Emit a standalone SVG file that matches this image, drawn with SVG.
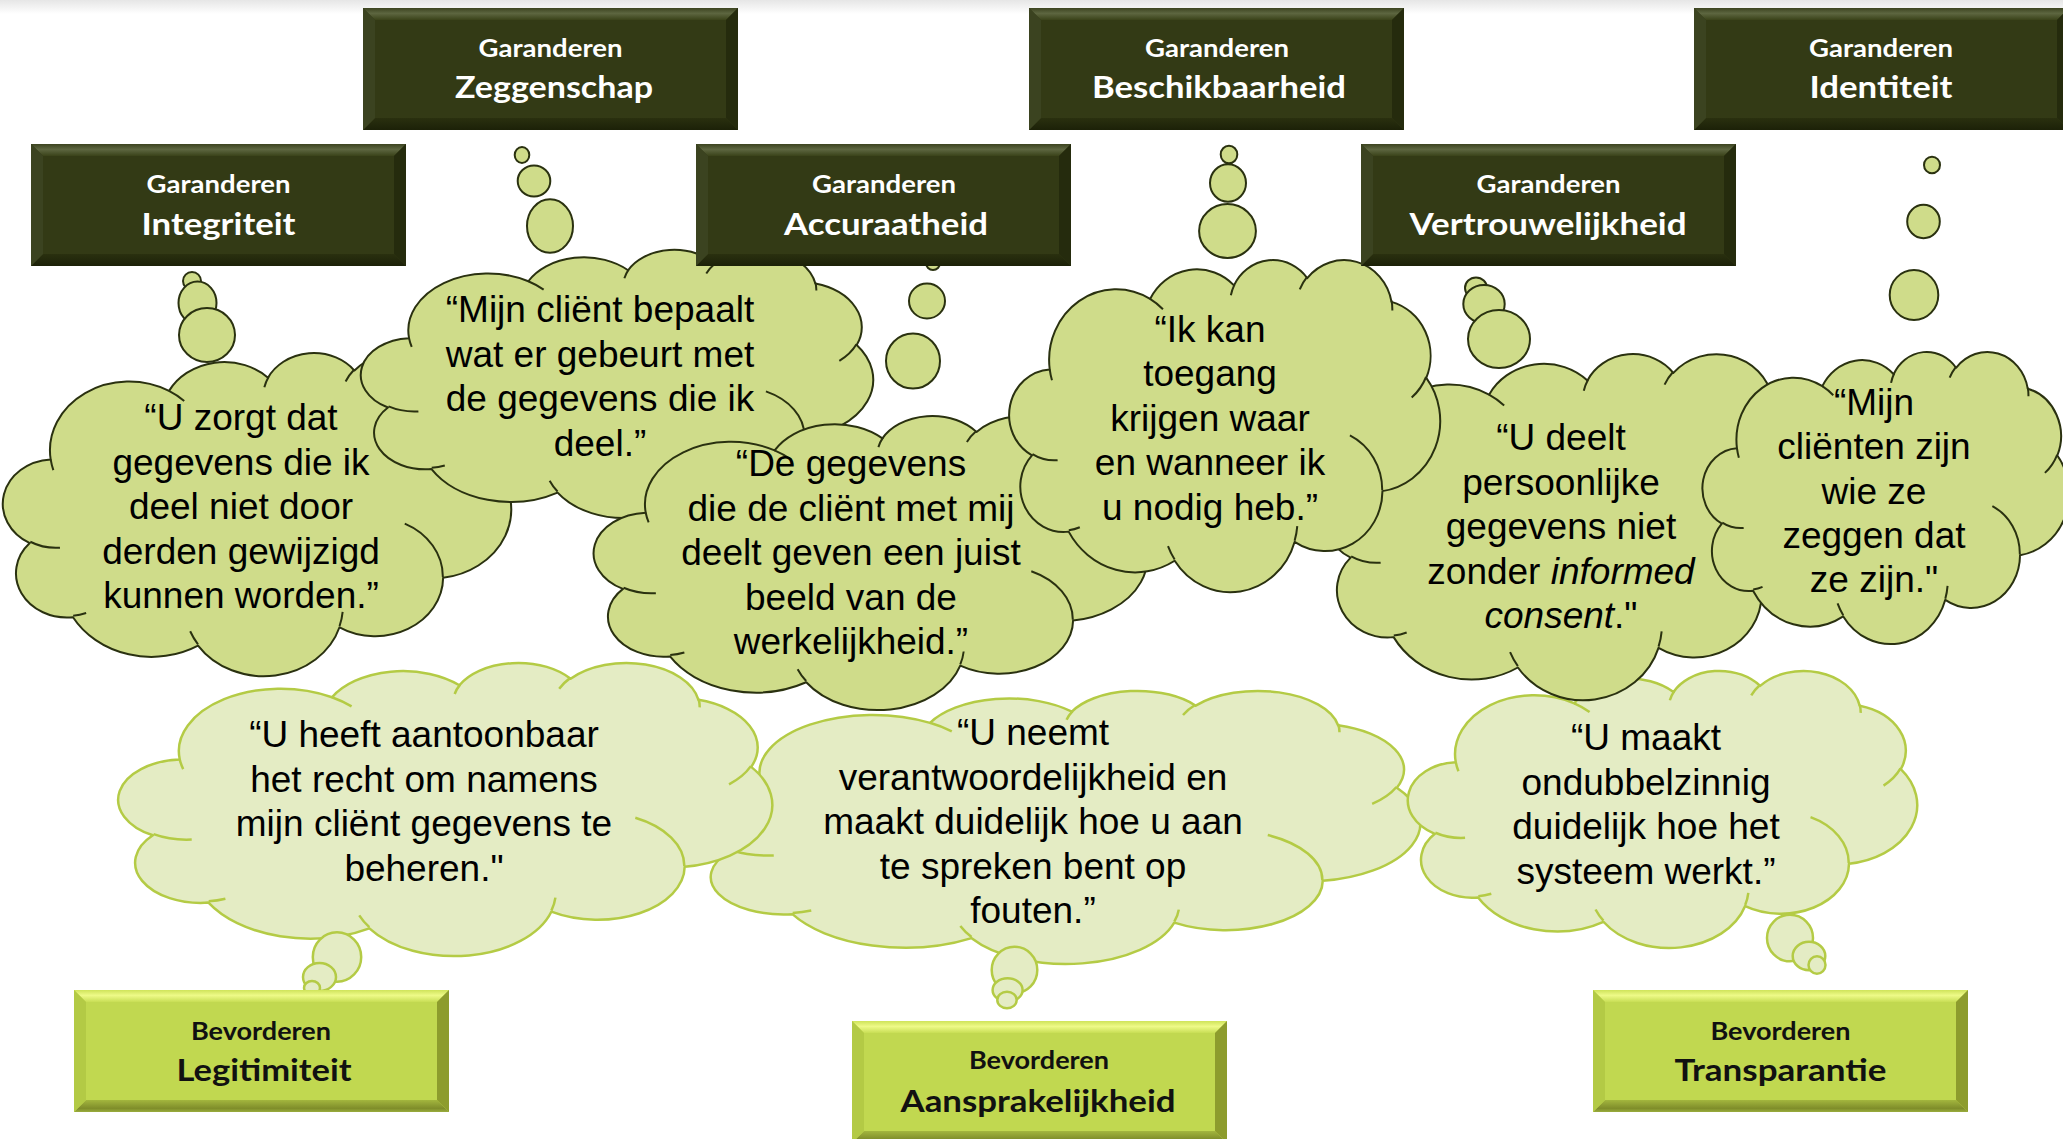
<svg xmlns="http://www.w3.org/2000/svg" width="2063" height="1139" viewBox="0 0 2063 1139">
<style>
.dk{fill:#cfdc8a;stroke:#2a3110;stroke-width:2}
.lt{fill:#e4ecc4;stroke:#b4cb45;stroke-width:2.5}
.q{font-family:"Liberation Sans",Arial,sans-serif;font-size:37px;fill:#000;text-anchor:middle}
.h1{font-family:Lato,"Open Sans",sans-serif;font-weight:bold;font-size:25px;text-anchor:middle}
.h2{font-family:Lato,"Open Sans",sans-serif;font-weight:bold;font-size:31px;text-anchor:middle}
.w{fill:#ffffff}
.b{fill:#111111}
</style>
<defs>
<linearGradient id="topShade" x1="0" y1="0" x2="0" y2="1"><stop offset="0" stop-color="#e6e6e6"/><stop offset="1" stop-color="#ffffff"/></linearGradient>
<linearGradient id="dTop" x1="0" y1="0" x2="0" y2="1"><stop offset="0" stop-color="#3c4420"/><stop offset="0.45" stop-color="#5d6640"/><stop offset="1" stop-color="#3a4219"/></linearGradient>
<linearGradient id="dBot" x1="0" y1="0" x2="0" y2="1"><stop offset="0" stop-color="#2a300f"/><stop offset="1" stop-color="#1c2108"/></linearGradient>
<linearGradient id="gTop" x1="0" y1="0" x2="0" y2="1"><stop offset="0" stop-color="#cfe35a"/><stop offset="0.45" stop-color="#eefa88"/><stop offset="1" stop-color="#c8de55"/></linearGradient>
<linearGradient id="gBot" x1="0" y1="0" x2="0" y2="1"><stop offset="0" stop-color="#a3b63e"/><stop offset="0.7" stop-color="#7f8d2a"/><stop offset="1" stop-color="#9aad3e"/></linearGradient>
<g id="cloud" stroke-linejoin="round">
<path vector-effect="non-scaling-stroke" d="M9.028 33.264A15.632 21.273 0 0 1 32.417 12.041A12.345 16.822 0 0 1 51.981 7.945A10.104 13.762 0 0 1 69.06 5.746A11.243 15.266 0 0 1 88.702 12.911A12.345 16.836 0 0 1 96.805 35.79A15.683 21.343 0 0 1 86.586 69.916A13.391 18.211 0 0 1 66.105 85.219A15.63 21.331 0 0 1 38.152 90.895A17.87 24.405 0 0 1 13.438 82.118A10.093 13.699 0 0 1 4.894 59.15A10.058 13.762 0 0 1 9.028 33.264Z"/>
<path vector-effect="non-scaling-stroke" fill="none" d="M10.863 60.595A10.058 13.762 0 0 1 4.999 58.749M16.037 80.785A10.093 13.699 0 0 1 13.471 81.668M38.144 90.486A15.63 21.331 0 0 1 36.596 86.454M66.729 80.442A15.63 21.331 0 0 1 66.112 84.86M79.002 53.134A13.391 18.211 0 0 1 86.529 69.652M96.755 35.542A12.345 16.836 0 0 1 93.4 41.738M88.713 12.56A11.243 15.266 0 0 1 88.89 15.485M67.31 9.148A11.243 15.266 0 0 1 69.026 5.42M51.252 10.926A10.104 13.762 0 0 1 52.084 7.709M32.407 12.019A15.632 21.273 0 0 1 35.42 15.144M9.553 36.549A15.632 21.273 0 0 1 9.028 33.263"/>
</g>
<g id="dbox">
<rect width="375" height="122" fill="#333a15"/>
<polygon points="0,0 375,0 363,12 12,12" fill="url(#dTop)"/>
<polygon points="0,122 375,122 363,110 12,110" fill="url(#dBot)"/>
<polygon points="0,0 12,12 12,110 0,122" fill="#3b4320"/>
<polygon points="375,0 363,12 363,110 375,122" fill="#252b0d"/>
</g>
<g id="gbox">
<rect width="375" height="122" fill="#c1d850"/>
<polygon points="0,0 375,0 363,12 12,12" fill="url(#gTop)"/>
<polygon points="0,122 375,122 363,110 12,110" fill="url(#gBot)"/>
<polygon points="0,0 12,12 12,110 0,122" fill="#b3ca45"/>
<polygon points="375,0 363,12 363,110 375,122" fill="#8d9c2d"/>
</g>
</defs>
<rect width="2063" height="1139" fill="#ffffff"/>
<rect width="2063" height="14" fill="url(#topShade)"/>

<g id="cloud-aansprakelijkheid">
<use href="#cloud" class="lt" transform="translate(695,690) scale(7.25,2.73)"/>
</g>
<g id="cloud-legitimiteit">
<use href="#cloud" class="lt" transform="translate(121,662) scale(6.51,2.93)"/>
<text class="q"><tspan x="424" y="747">“U heeft aantoonbaar</tspan><tspan x="424" y="791.5">het recht om namens</tspan><tspan x="424" y="836">mijn cliënt gegevens te</tspan><tspan x="424" y="880.5">beheren."</tspan></text>
</g>
<g id="cloud-transparantie">
<use href="#cloud" class="lt" transform="translate(1410,670) scale(5.07,2.77)"/>
<text class="q"><tspan x="1646" y="750">“U maakt</tspan><tspan x="1646" y="794.5">ondubbelzinnig</tspan><tspan x="1646" y="839">duidelijk hoe het</tspan><tspan x="1646" y="883.5">systeem werkt.”</tspan></text>
</g>
<g id="cloud-aansprakelijkheid-text">
<text class="q"><tspan x="1033" y="745">“U neemt</tspan><tspan x="1033" y="789.5">verantwoordelijkheid en</tspan><tspan x="1033" y="834">maakt duidelijk hoe u aan</tspan><tspan x="1033" y="878.5">te spreken bent op</tspan><tspan x="1033" y="923">fouten.”</tspan></text>
</g>

<g id="cloud-integriteit">
<use href="#cloud" class="dk" transform="translate(5,352) scale(5.06,3.23)"/>
<text class="q"><tspan x="241" y="430">“U zorgt dat</tspan><tspan x="241" y="474.6">gegevens die ik</tspan><tspan x="241" y="519.2">deel niet door</tspan><tspan x="241" y="563.8">derden gewijzigd</tspan><tspan x="241" y="608.4">kunnen worden.”</tspan></text>
</g>
<g id="cloud-zeggenschap">
<use href="#cloud" class="dk" transform="translate(363,249) scale(5.10,2.68)"/>
<text class="q"><tspan x="600" y="322">“Mijn cliënt bepaalt</tspan><tspan x="600" y="366.6">wat er gebeurt met</tspan><tspan x="600" y="411.2">de gegevens die ik</tspan><tspan x="600" y="455.8">deel.”</tspan></text>
</g>
<g id="cloud-accuraatheid">
<use href="#cloud" class="dk" transform="translate(596,415) scale(5.51,2.94)"/>
<text class="q"><tspan x="851" y="476">“De gegevens</tspan><tspan x="851" y="520.6">die de cliënt met mij</tspan><tspan x="851" y="565.2">deelt geven een juist</tspan><tspan x="851" y="609.8">beeld van de</tspan><tspan x="851" y="654.4">werkelijkheid.”</tspan></text>
</g>
<g id="cloud-vertrouwelijkheid">
<use href="#cloud" class="dk" transform="translate(1326,353) scale(5.03,3.46)"/>
<text class="q"><tspan x="1561" y="450">“U deelt</tspan><tspan x="1561" y="494.6">persoonlijke</tspan><tspan x="1561" y="539.2">gegevens niet</tspan><tspan x="1561" y="583.8">zonder <tspan font-style="italic">informed</tspan></tspan><tspan x="1561" y="628.4"><tspan font-style="italic">consent</tspan>."</tspan></text>
</g>
<g id="cloud-beschikbaarheid">
<use href="#cloud" class="dk" transform="translate(1011,259) scale(4.29,3.32)"/>
<text class="q"><tspan x="1210" y="341.5">“Ik kan</tspan><tspan x="1210" y="386.1">toegang</tspan><tspan x="1210" y="430.7">krijgen waar</tspan><tspan x="1210" y="475.3">en wanneer ik</tspan><tspan x="1210" y="519.9">u nodig heb.”</tspan></text>
</g>
<g id="cloud-identiteit">
<use href="#cloud" class="dk" transform="translate(1704,351) scale(3.65,2.92)"/>
<text class="q"><tspan x="1874" y="415">“Mijn</tspan><tspan x="1874" y="459">cliënten zijn</tspan><tspan x="1874" y="503.5">wie ze</tspan><tspan x="1874" y="548">zeggen dat</tspan><tspan x="1874" y="592">ze zijn."</tspan></text>
</g>

<g id="connectors">
<g class="dk">
<ellipse cx="192" cy="281" rx="9" ry="9"/><ellipse cx="197.5" cy="303" rx="19" ry="21.5"/><ellipse cx="207" cy="335" rx="28" ry="27"/>
<ellipse cx="522" cy="155" rx="7.3" ry="8"/><ellipse cx="534" cy="181" rx="16.3" ry="15.5"/><ellipse cx="550" cy="226" rx="23" ry="26.7"/>
<ellipse cx="933" cy="263" rx="7" ry="7"/><ellipse cx="927" cy="301" rx="18" ry="17.5"/><ellipse cx="913" cy="361" rx="27" ry="27.5"/>
<ellipse cx="1229" cy="154.5" rx="8.3" ry="8.8"/><ellipse cx="1228" cy="183" rx="18" ry="18.7"/><ellipse cx="1227.5" cy="231" rx="28.4" ry="27"/>
<ellipse cx="1476" cy="288" rx="11" ry="10.5"/><ellipse cx="1484" cy="304" rx="20.7" ry="19"/><ellipse cx="1499" cy="339" rx="31" ry="29"/>
<ellipse cx="1932" cy="165" rx="8" ry="8.3"/><ellipse cx="1923.5" cy="221.5" rx="16.3" ry="16.7"/><ellipse cx="1914" cy="295" rx="24.3" ry="25"/>
</g>
<g class="lt">
<ellipse cx="337" cy="957" rx="24.2" ry="24.7"/><ellipse cx="319.5" cy="977" rx="16.5" ry="14"/><ellipse cx="312" cy="988" rx="8" ry="7"/>
<ellipse cx="1014.5" cy="970" rx="22.8" ry="23.3"/><ellipse cx="1007.6" cy="990" rx="15" ry="11.7"/><ellipse cx="1007" cy="1000" rx="9.7" ry="8.3"/>
<ellipse cx="1790" cy="938" rx="23" ry="23.3"/><ellipse cx="1809" cy="956" rx="16.3" ry="14.2"/><ellipse cx="1817" cy="965" rx="8.5" ry="8.7"/>
</g>
</g>

<g id="box-integriteit"><use href="#dbox" x="31" y="144"/><text class="h1 w" x="218.5" y="193" textLength="144" lengthAdjust="spacingAndGlyphs">Garanderen</text><text class="h2 w" x="218.5" y="235" textLength="154" lengthAdjust="spacingAndGlyphs">Integriteit</text></g>
<g id="box-zeggenschap"><use href="#dbox" x="363" y="8"/><text class="h1 w" x="550.5" y="57" textLength="144" lengthAdjust="spacingAndGlyphs">Garanderen</text><text class="h2 w" x="554" y="98" textLength="198" lengthAdjust="spacingAndGlyphs">Zeggenschap</text></g>
<g id="box-accuraatheid"><use href="#dbox" x="696" y="144"/><text class="h1 w" x="884" y="193" textLength="144" lengthAdjust="spacingAndGlyphs">Garanderen</text><text class="h2 w" x="886" y="235" textLength="204" lengthAdjust="spacingAndGlyphs">Accuraatheid</text></g>
<g id="box-beschikbaarheid"><use href="#dbox" x="1029" y="8"/><text class="h1 w" x="1217" y="57" textLength="144" lengthAdjust="spacingAndGlyphs">Garanderen</text><text class="h2 w" x="1219" y="98" textLength="254" lengthAdjust="spacingAndGlyphs">Beschikbaarheid</text></g>
<g id="box-vertrouwelijkheid"><use href="#dbox" x="1361" y="144"/><text class="h1 w" x="1548.5" y="193" textLength="144" lengthAdjust="spacingAndGlyphs">Garanderen</text><text class="h2 w" x="1548" y="235" textLength="277" lengthAdjust="spacingAndGlyphs">Vertrouwelijkheid</text></g>
<g id="box-identiteit"><use href="#dbox" x="1694" y="8"/><text class="h1 w" x="1881" y="57" textLength="144" lengthAdjust="spacingAndGlyphs">Garanderen</text><text class="h2 w" x="1881" y="98" textLength="143" lengthAdjust="spacingAndGlyphs">Identiteit</text></g>

<g id="box-legitimiteit"><use href="#gbox" x="74" y="990"/><text class="h1 b" x="261" y="1040" textLength="140" lengthAdjust="spacingAndGlyphs">Bevorderen</text><text class="h2 b" x="264" y="1081" textLength="175" lengthAdjust="spacingAndGlyphs">Legitimiteit</text></g>
<g id="box-aansprakelijkheid"><use href="#gbox" x="852" y="1021"/><text class="h1 b" x="1039" y="1069" textLength="140" lengthAdjust="spacingAndGlyphs">Bevorderen</text><text class="h2 b" x="1038" y="1112" textLength="275" lengthAdjust="spacingAndGlyphs">Aansprakelijkheid</text></g>
<g id="box-transparantie"><use href="#gbox" x="1593" y="990"/><text class="h1 b" x="1780.5" y="1040" textLength="140" lengthAdjust="spacingAndGlyphs">Bevorderen</text><text class="h2 b" x="1780.5" y="1081" textLength="212" lengthAdjust="spacingAndGlyphs">Transparantie</text></g>
</svg>
